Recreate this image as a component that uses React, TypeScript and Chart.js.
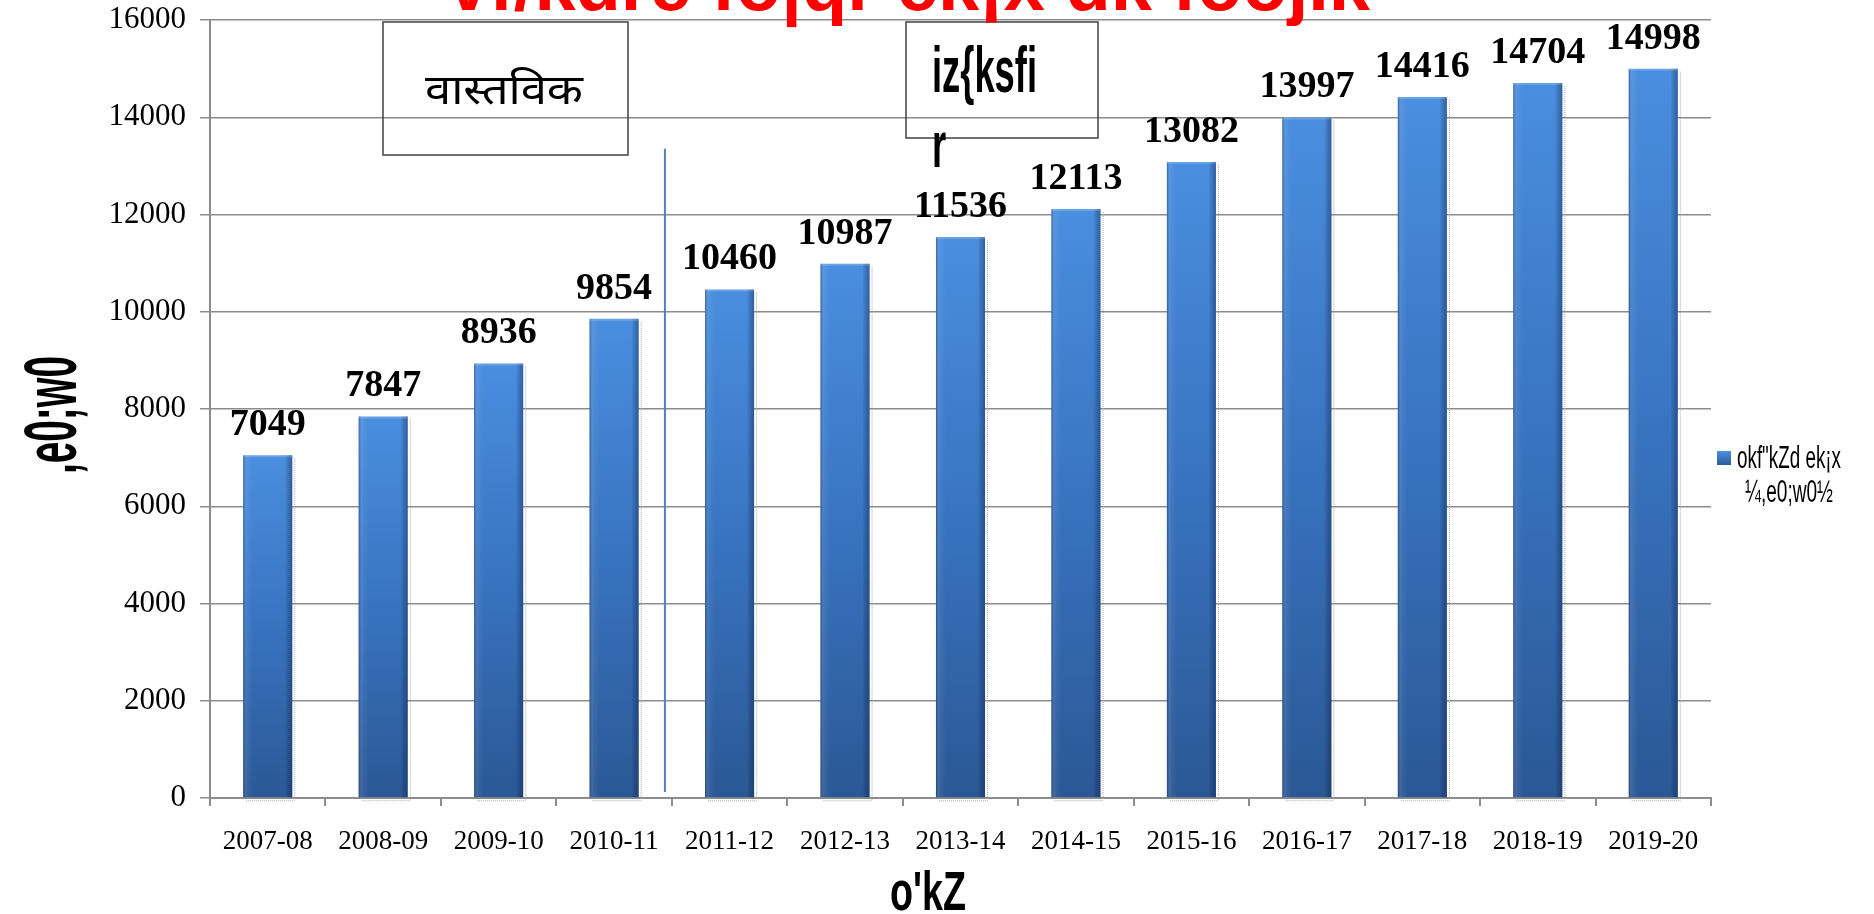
import { useEffect, useRef } from 'react';
import { Chart, registerables } from 'chart.js';

Chart.register(...registerables);

// ---- data ----
const years = ['2007-08', '2008-09', '2009-10', '2010-11', '2011-12', '2012-13', '2013-14', '2014-15', '2015-16', '2016-17', '2017-18', '2018-19', '2019-20'];
const demand = [7049, 7847, 8936, 9854, 10460, 10987, 11536, 12113, 13082, 13997, 14416, 14704, 14998];
const yMax = 16000;
const yStep = 2000;

// ---- texts (Kruti-Dev encoded Hindi as in the source) ----
const titleText = 'vf/kdre fo|qr ek¡x dk fooj.k';
const legendLines = ['okf"kZd ek¡x', '¼,e0;w0½'];
const yTitle = ',e0;w0';
const xTitle = "o'kZ";
const actualLabel = 'वास्तविक';
const projectedLines = ['iz{ksfi', 'r'];
const dividerAt = 3.44; // category-scale position of the actual/projected divider
const dividerTop = 13350; // value where the divider starts

const SANS = '"Liberation Sans", Arial, sans-serif';
const SERIF = '"Liberation Serif", "Times New Roman", serif';

function fitText(ctx: CanvasRenderingContext2D, text: string, x: number, y: number, width: number, font: string, color: string) {
  ctx.save();
  ctx.font = font;
  const w = ctx.measureText(text).width;
  ctx.translate(x, y);
  ctx.scale(width / w, 1);
  ctx.fillStyle = color;
  ctx.textAlign = 'left';
  ctx.textBaseline = 'alphabetic';
  ctx.fillText(text, 0, 0);
  ctx.restore();
}

const decoPlugin = {
  id: 'deco',
  beforeDatasetsDraw(chart: any) {
    const ctx = chart.ctx as CanvasRenderingContext2D;
    const meta = chart.getDatasetMeta(0);
    ctx.save();
    ctx.strokeStyle = '#a8a8a8';
    ctx.lineWidth = 1;
    ctx.setLineDash([1, 1]);
    meta.data.forEach((el: any) => {
      const { x, y, base, width } = el.getProps(['x', 'y', 'base', 'width'], true);
      const r = x + width / 2;
      const l = x - width / 2;
      ctx.beginPath();
      ctx.moveTo(r + 2.5, y + 3);
      ctx.lineTo(r + 2.5, base + 3);
      ctx.moveTo(l + 3, base + 3.5);
      ctx.lineTo(r + 2.5, base + 3.5);
      ctx.stroke();
    });
    ctx.restore();
  },
  afterDatasetsDraw(chart: any) {
    const ctx = chart.ctx as CanvasRenderingContext2D;
    const meta = chart.getDatasetMeta(0);
    ctx.save();
    meta.data.forEach((el: any, i: number) => {
      const { x, y, base, width } = el.getProps(['x', 'y', 'base', 'width'], true);
      const l = x - width / 2;
      const g = ctx.createLinearGradient(l, 0, l + width, 0);
      g.addColorStop(0, 'rgba(10,30,80,0.4)');
      g.addColorStop(0.08, 'rgba(255,255,255,0.06)');
      g.addColorStop(0.2, 'rgba(255,255,255,0)');
      g.addColorStop(0.85, 'rgba(0,0,0,0)');
      g.addColorStop(1, 'rgba(10,30,80,0.4)');
      ctx.fillStyle = g;
      ctx.fillRect(l, y, width, base - y);
      ctx.fillStyle = 'rgba(255,255,255,0.18)';
      ctx.fillRect(l, y, width, 2);
      ctx.fillStyle = '#000';
      ctx.font = 'bold 38px ' + SERIF;
      ctx.textAlign = 'center';
      ctx.textBaseline = 'alphabetic';
      ctx.fillText(String(demand[i]), x, y - 20);
    });
    ctx.restore();
  },
  afterDraw(chart: any) {
    const ctx = chart.ctx as CanvasRenderingContext2D;
    const xs = chart.scales.x;
    const ys = chart.scales.y;
    const area = chart.chartArea;

    const dx = xs.getPixelForValue(dividerAt);
    ctx.save();
    ctx.strokeStyle = '#4F81BD';
    ctx.lineWidth = 2;
    ctx.beginPath();
    ctx.moveTo(dx, ys.getPixelForValue(dividerTop));
    ctx.lineTo(dx, area.bottom - 6);
    ctx.stroke();

    ctx.strokeStyle = '#404040';
    ctx.lineWidth = 1.5;
    ctx.strokeRect(383, 22, 245, 133);
    ctx.strokeRect(906, 22, 192, 116);
    ctx.restore();

    fitText(ctx, actualLabel, 425, 104, 158, '42px "Noto Sans Devanagari", "Lohit Devanagari", Mangal, sans-serif', '#000');

    ctx.save();
    ctx.font = 'bold 64px ' + SANS;
    const s = 105 / ctx.measureText(projectedLines[0]).width;
    ctx.fillStyle = '#000';
    ctx.translate(932, 92);
    ctx.scale(s, 1);
    ctx.fillText(projectedLines[0], 0, 0);
    ctx.fillText(projectedLines[1], 0, 75);
    ctx.restore();

    // legend
    ctx.save();
    const lg = ctx.createLinearGradient(0, 451, 0, 465);
    lg.addColorStop(0, '#4A90E2');
    lg.addColorStop(1, '#2C5C9C');
    ctx.fillStyle = lg;
    ctx.fillRect(1717, 451, 14, 14);
    ctx.restore();
    fitText(ctx, legendLines[0], 1737, 468, 104, '31px ' + SANS, '#000');
    fitText(ctx, legendLines[1], 1745, 502, 88, '31px ' + SANS, '#000');

    // axis titles
    ctx.save();
    ctx.translate(76, 474);
    ctx.rotate(-Math.PI / 2);
    fitText(ctx, yTitle, 0, 0, 118, 'bold 74px ' + SANS, '#000');
    ctx.restore();
    fitText(ctx, xTitle, 890, 910, 76, 'bold 56px ' + SANS, '#000');

    // title (partially above the canvas)
    fitText(ctx, titleText, 448, 10, 922, 'bold 76px ' + SANS, '#FF0000');
  },
};

export default function App() {
  const ref = useRef<HTMLCanvasElement>(null);
  useEffect(() => {
    const canvas = ref.current!;
    const chart = new Chart(canvas, {
      type: 'bar',
      data: {
        labels: years,
        datasets: [
          {
            label: legendLines.join(' '),
            data: demand,
            backgroundColor: (c: any) => {
              const ch = c.chart;
              if (c.type !== 'data' || !ch.chartArea || !ch.scales.y) return '#3B78C8';
              const top = ch.scales.y.getPixelForValue(c.raw);
              const base = ch.scales.y.getPixelForValue(0);
              const g = ch.ctx.createLinearGradient(0, top, 0, base);
              g.addColorStop(0, '#4A8EDF');
              g.addColorStop(0.5, '#3873C0');
              g.addColorStop(1, '#2B5895');
              return g;
            },
            borderWidth: 0,
            barPercentage: 0.425,
            categoryPercentage: 1,
          },
        ],
      },
      options: {
        animation: false,
        responsive: true,
        maintainAspectRatio: false,
        layout: { padding: { left: 0, top: 20, right: 163, bottom: 0 } },
        plugins: { legend: { display: false }, title: { display: false }, tooltip: { enabled: false } },
        scales: {
          x: {
            grid: { offset: true, drawOnChartArea: false, drawTicks: true, tickLength: 8, color: '#8c8c8c', lineWidth: 2 },
            border: { color: '#8c8c8c', width: 2 },
            ticks: { color: '#000', font: { family: SERIF, size: 27 }, padding: 20, maxRotation: 0, autoSkip: false },
            afterFit: (s: any) => { s.height = 116; s.paddingLeft = 0; s.paddingRight = 0; },
          },
          y: {
            min: 0,
            max: yMax,
            ticks: { stepSize: yStep, color: '#000', font: { family: SERIF, size: 31 }, padding: 14, callback: (v: any) => String(v) },
            grid: { color: '#8c8c8c', lineWidth: 1.5, tickLength: 10 },
            border: { color: '#8c8c8c', width: 2 },
            afterFit: (s: any) => { s.width = 210; s.paddingTop = 0; s.paddingBottom = 0; },
          },
        },
      },
      plugins: [decoPlugin],
    } as any);
    return () => chart.destroy();
  }, []);
  return (
    <div style={{ position: 'fixed', left: 0, top: 0, width: 1874, height: 914, background: '#fff' }}>
      <canvas ref={ref} />
    </div>
  );
}
